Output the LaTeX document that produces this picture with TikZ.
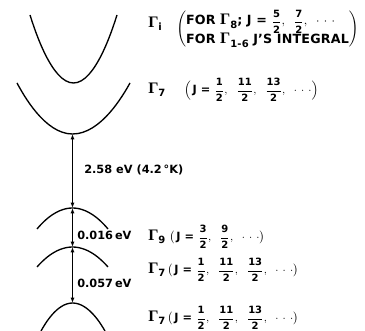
\documentclass[tikz,border=0pt]{standalone}
\usepackage{amsmath}
\usepackage{fontspec}
\setmainfont{DejaVu Sans}
\newfontfamily\gfont{Liberation Serif}
\usetikzlibrary{arrows.meta}

\newcommand{\fr}{\fontsize{7.5}{7.5}\selectfont\bfseries}
\newcommand{\hf}[1]{\dfrac{\text{\fr #1}}{\text{\fr 2}}}
\newcommand{\G}[1]{{\gfont\bfseries\fontsize{12}{12}\selectfont Γ}\raisebox{-2.5pt}{\fontsize{7.5}{7.5}\selectfont\bfseries #1}}
\newcommand{\cm}{,\hspace{5pt}}
\newcommand{\dd}{\cdot\hspace{1.2pt}\cdot\hspace{1.2pt}\cdot}

\tikzset{
  band/.style={line width=1pt},
  gap/.style={line width=0.8pt,{Latex[length=4pt,width=3pt]}-{Latex[length=4pt,width=3pt]}},
  lbl/.style={anchor=west,inner sep=0pt,font=\fontsize{8.5}{10}\selectfont\bfseries},
}

\begin{document}
\begin{tikzpicture}[x=0.75pt,y=-0.75pt]
    \useasboundingbox (0,0) rectangle (365,331);

    \coordinate (c7) at (72.5,134);
    \coordinate (v9) at (72.5,208);
    \coordinate (v7a) at (72.5,247);
    \coordinate (v7b) at (72.5,303);

    % bands
    \draw[band] (30,15) parabola bend (73.5,83) (117,15);
    \draw[band] (17,83) parabola bend (c7) (130,83);
    \draw[band] (37,229) parabola bend (v9) (108,229);
    \draw[band] (37,267) parabola bend (v7a) (108,267);
    \draw[band] (41,331) parabola bend (v7b) (105,331);

    \draw[gap] (c7) -- (v9);
    \draw[gap] (v9) -- (v7a);
    \draw[gap] (v7a) -- (v7b);

    \node[lbl] (egap) at (84,170) {2.58 eV (4.2\,°K)};
    \node[lbl] (eso1) at (77,235) {0.016\,eV};
    \node[lbl] (eso2) at (77,283) {0.057\,eV};

    \node[lbl] (gi) at (148,24) {\G{i}};
    \node[lbl,font=\fontsize{9.5}{11}\selectfont\bfseries\addfontfeature{LetterSpace=1.5}] (gidef) at (176,29)
      {$\left(\begin{tabular}{@{}l@{}}FOR \G{8}; J = $\hf{5}\cm\hf{7}\cm\dd$\\[3pt]FOR \G{1-6} J'S INTEGRAL\end{tabular}\right)$};
    \node[lbl] (gc) at (148,90) {\G{7}\hspace{14pt}$\Bigl(\,$J = $\hf{1}\cm\hf{11}\cm\hf{13}\cm\dd\Bigr)$};
    \node[lbl] (gv9) at (148,237) {\G{9} $\bigl(\,$J = $\hf{3}\cm\hf{9}\cm\dd\bigr)$};
    \node[lbl] (gv7a) at (148,270) {\G{7}\,$\bigl(\,$J = $\hf{1}\cm\hf{11}\cm\hf{13}\cm\dd\bigr)$};
    \node[lbl] (gv7b) at (148,318) {\G{7}\,$\bigl(\,$J = $\hf{1}\cm\hf{11}\cm\hf{13}\cm\dd\bigr)$};
\end{tikzpicture}
\end{document}
